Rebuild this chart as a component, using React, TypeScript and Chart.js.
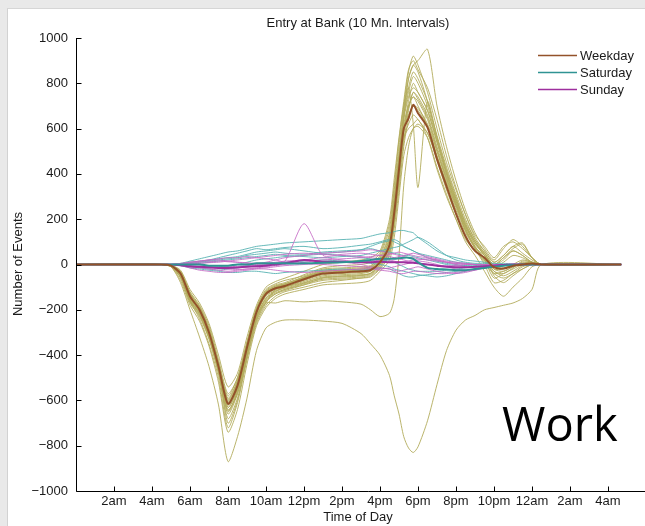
import React, { useEffect, useRef } from 'react';
import { Chart, registerables } from 'chart.js';
Chart.register(...registerables);

// Time grid in hours since midnight (10-minute interval series, sampled)
const timeGrid = [0, 4.5, 5, 5.5, 6, 6.5, 7, 7.5, 8, 8.5, 9, 9.5, 10, 10.5, 11, 12, 13, 14, 15, 15.5, 16, 16.5, 16.75, 17, 17.25, 17.5, 17.75, 18, 18.5, 19, 19.5, 20, 20.5, 21, 21.5, 22, 22.5, 23, 23.5, 24, 24.5, 28.7];

const tickHours = [2, 4, 6, 8, 10, 12, 14, 16, 18, 20, 22, 24, 26, 28];
const tickLabels = ['2am', '4am', '6am', '8am', '10am', '12pm', '2pm', '4pm', '6pm', '8pm', '10pm', '12am', '2am', '4am'];
const seriesNames = ['Weekday', 'Saturday', 'Sunday'];

const weekdayMean = [0,0,-5,-40,-140, -200,-300,-450,-615,-535,-366,-210,-130, -105,-95,-65,-40,-35,-30,-25,10, 85,230,420,600,645,705,668, 605,465,345,225,125,60,30,-12, -18,-6,0,4,0,0];
const saturdayMean = [0,0,0,0,0, 0,-5,-5,-5,0,0,5,5, 5,5,5,8,10,15,20,25, 25,25,28,30,30,25,10, -15,-20,-22,-25,-25,-20,-15,-10, -5,-3,0,0,0,0];
const sundayMean = [0,0,0,-3,-8, -10,-12,-15,-15,-13,-10,-8,-5, 0,5,20,12,12,10,10,12, 10,10,10,10,8,8,5, 0,-5,-10,-12,-12,-10,-8,-5, -2,0,0,0,0,0];

const weekday01 = [0,0,-8,-60,-170, -230,-330,-480,-650,-560,-390,-230,-150, -120,-100,-80,-55,-50,-45,-40,-5, 60,180,380,590,720,800,760, 680,540,400,280,170,90,50,-20, -30,-10,5,10,0,0];
const weekday02 = [0,0,-3,-30,-120, -180,-270,-420,-570,-500,-340,-190,-110, -85,-70,-50,-20,-15,-10,-5,30, 140,300,480,650,820,880,850, 720,560,420,300,180,100,40,0, 20,60,40,10,0,0];
const weekday03 = [0,0,-10,-55,-160, -220,-320,-470,-640,-570,-400,-240,-160, -130,-115,-90,-60,-55,-50,-40,0, 80,220,400,560,600,620,640, 560,420,300,200,110,60,20,-40, -60,-40,-10,0,0,0];
const weekday04 = [0,0,-5,-45,-150, -210,-310,-470,-680,-590,-410,-250,-170, -110,-95,-60,-30,-25,-20,-10,40, 160,330,520,700,850,920,880, 760,600,450,330,220,120,60,10, 40,80,95,30,0,0];
const weekday05 = [0,0,-5,-35,-130, -190,-290,-440,-590,-510,-350,-200,-120, -95,-85,-55,-25,-20,-15,-10,20, 90,240,430,620,700,740,700, 610,480,360,250,150,80,30,-30, -50,-30,-5,5,0,0];
const weekday06 = [0,0,-8,-50,-160, -240,-350,-500,-720,-610,-420,-260,-180, -140,-120,-100,-80,-70,-60,-55,-20, 40,160,330,520,640,700,690, 620,500,380,270,160,70,0,-80, -70,-40,-20,0,0,0];
const weekday07 = [0,0,-3,-25,-110, -170,-260,-400,-540,-480,-320,-180,-100, -75,-60,-30,0,10,20,30,60, 200,380,560,720,860,900,860, 780,640,480,340,220,130,80,30, 80,100,70,30,0,0];
const weekday08 = [0,0,-6,-45,-145, -205,-305,-455,-620,-545,-375,-215,-135, -110,-100,-70,-45,-40,-35,-30,5, 70,200,380,560,620,660,640, 580,460,330,220,120,60,20,-20, -20,0,20,10,0,0];
const weekday09 = [0,0,-10,-70,-180, -250,-360,-520,-740,-640,-440,-270,-190, -150,-130,-110,-90,-85,-80,-70,-30, 20,120,300,480,560,600,620, 580,470,360,260,170,90,40,-50, -80,-50,-20,0,0,0];
const weekday10 = [0,0,-4,-30,-125, -185,-280,-430,-580,-500,-345,-195,-115, -90,-80,-45,-15,-5,0,10,50, 180,350,550,700,780,620,340, 720,560,410,290,190,110,60,10, 40,80,50,20,0,0];
const weekday11 = [0,0,-7,-50,-155, -215,-315,-465,-630,-550,-380,-220,-140, -115,-100,-75,-50,-45,-40,-30,10, 110,260,450,650,760,830,800, 700,550,410,290,180,100,40,-10, 10,40,30,10,0,0];
const weekday12 = [0,0,-5,-40,-135, -195,-295,-445,-600,-520,-355,-205,-125, -100,-90,-60,-35,-30,-25,-20,15, 120,280,470,680,820,880,900, 950,700,520,370,240,140,70,20, 70,110,80,30,0,0];
const weekday13 = [0,0,-6,-42,-142, -202,-302,-452,-610,-530,-362,-207,-128, -100,-92,-62,-38,-32,-28,-22,12, 95,245,425,605,660,700,680, 610,480,350,240,140,75,40,-10, -15,-5,5,5,0,0];
const weekday14 = [0,0,-8,-55,-165, -225,-325,-475,-660,-570,-395,-235,-155, -125,-110,-85,-65,-60,-55,-45,-10, 50,190,360,540,680,760,740, 660,520,390,270,160,80,20,-60, -40,-20,0,0,0,0];
const weekday15 = [0,0,-4,-35,-128, -188,-285,-435,-595,-515,-350,-200,-120, -95,-85,-55,-30,-25,-20,-15,25, 130,290,480,640,740,780,760, 680,540,400,280,170,100,50,0, 30,60,40,10,0,0];
const weekday16 = [0,0,-6,-48,-150, -210,-310,-460,-700,-600,-405,-245,-165, -130,-110,-90,-70,-65,-60,-50,-15, 60,200,390,580,700,740,720, 640,500,370,260,150,70,10,-40, -30,-10,10,5,0,0];
const weekday17 = [0,0,-5,-38,-138, -198,-298,-448,-605,-528,-360,-205,-128, -100,-88,-58,-32,-28,-24,-18,18, 110,270,460,660,780,850,820, 720,570,430,310,200,110,50,0, 30,70,90,30,0,0];
const weekday18 = [0,0,-7,-52,-158, -218,-318,-468,-645,-560,-385,-228,-148, -118,-105,-82,-58,-52,-48,-38,0, 65,210,400,590,690,760,730, 650,510,380,265,150,75,25,-30, -40,-15,15,10,0,0];
const weekday19 = [0,0,-10,-80,-200, -320,-450,-620,-870,-760,-590,-380,-280, -255,-245,-245,-250,-260,-305,-350,-400, -490,-580,-660,-760,-810,-830,-805, -690,-530,-380,-290,-245,-225,-200,-190, -180,-170,-150,-110,0,0];
const weekday20 = [0,0,-5,-40,-140, -200,-300,-460,-630,-550,-380,-230,-170, -170,-160,-165,-160,-165,-175,-200,-230, -215,-150,40,350,520,600,610, 560,430,310,200,100,40,-30,-100, -140,-100,-60,-10,0,0];

const saturday01 = [0,0,0,5,15, 25,35,45,55,60,70,80,85, 90,95,100,105,110,115,125,135, 140,145,150,150,145,140,120, 90,60,40,30,20,15,10,5, 5,3,2,0,0,0];
const saturday02 = [0,0,0,3,10, 15,20,30,40,50,60,70,65, 70,75,80,70,75,85,90,100, 110,100,90,80,70,60,50, 40,30,20,10,5,0,0,0, 0,0,0,0,0,0];
const saturday03 = [0,0,0,0,5, 10,15,20,25,30,40,45,50, 55,50,45,55,60,65,70,60, 55,50,45,40,40,35,30, 20,10,0,-5,-5,-5,0,0, 0,0,0,0,0,0];
const saturday04 = [0,0,0,-3,-8, -12,-15,-10,-5,0,10,20,25, 30,35,40,45,40,30,25,20, 15,10,0,-10,-20,-25,-30, -30,-30,-25,-20,-15,-10,-5,-3, 0,0,0,0,0,0];
const saturday05 = [0,0,0,-5,-15, -20,-25,-30,-35,-35,-30,-30,-35, -40,-35,-30,-25,-20,-25,-20,-15, -20,-30,-40,-50,-55,-55,-50, -45,-40,-35,-30,-25,-20,-15,-10, -5,-3,0,0,0,0];
const saturday06 = [0,0,0,2,8, 12,18,25,30,35,45,55,60, 65,70,60,50,55,65,80,95, 105,110,100,80,70,60,50, 30,15,5,0,-5,-10,-5,0, 0,0,0,0,0,0];
const saturday07 = [0,0,0,-2,-10, -15,-20,-25,-20,-15,-10,-5,0, 5,10,15,20,15,10,5,0, -10,-20,-25,-30,-35,-40,-45, -50,-55,-50,-40,-30,-20,-10,-5, 0,0,0,0,0,0];
const saturday08 = [0,0,0,0,3, 5,10,15,20,25,30,35,40, 45,40,35,30,35,40,50,60, 70,75,80,90,100,110,120, 100,70,40,20,10,5,5,0, 0,0,0,0,0,0];

const sunday01 = [0,0,0,5,10, 15,20,25,30,30,35,30,25, 20,15,180,40,45,50,45,40, 35,30,25,20,15,10,5, 0,-5,-5,-5,0,0,0,0, 0,0,0,0,0,0];
const sunday02 = [0,0,0,-3,-10, -15,-20,-25,-30,-25,-20,-15,-10, -5,0,10,20,25,30,35,40, 45,50,55,50,45,40,35, 30,20,10,0,-10,-15,-10,-5, 0,0,0,0,0,0];
const sunday03 = [0,0,0,-5,-15, -25,-30,-35,-35,-30,-25,-20,-20, -25,-30,-35,-30,-25,-20,-20,-25, -30,-35,-40,-40,-35,-30,-30, -35,-40,-40,-35,-30,-25,-15,-10, -5,0,0,0,0,0];
const sunday04 = [0,0,0,2,5, 10,12,15,12,10,8,5,10, 20,30,40,50,55,60,65,60, 50,45,40,35,30,30,25, 20,15,10,5,5,0,0,0, 0,0,0,0,0,0];
const sunday05 = [0,0,0,-2,-8, -12,-15,-18,-20,-22,-20,-18,-15, -10,-5,0,5,10,0,-10,-15, -20,-25,-30,-25,-20,-15,-10, -20,-30,-35,-40,-35,-25,-15,-5, 0,0,0,0,0,0];
const sunday06 = [0,0,0,3,10, 15,20,20,15,10,5,0,5, 10,15,20,30,20,10,15,20, 25,30,35,40,45,50,45, 35,25,15,10,5,0,0,0, 0,0,0,0,0,0];
const sunday07 = [0,0,0,-1,-5, -8,-10,-12,-10,-8,-5,-3,0, 5,10,5,0,-5,-10,-15,-20, -15,-10,-5,0,5,10,15, 10,0,-10,-20,-25,-20,-10,-5, 0,0,0,0,0,0];
const sunday08 = [0,0,0,0,2, 5,8,10,15,20,25,30,35, 40,45,50,45,40,35,30,25, 20,15,10,10,15,20,20, 25,20,10,5,0,0,0,0, 0,0,0,0,0,0];

const weekdayDays = [weekday01, weekday02, weekday03, weekday04, weekday05, weekday06, weekday07, weekday08, weekday09, weekday10, weekday11, weekday12, weekday13, weekday14, weekday15, weekday16, weekday17, weekday18, weekday19, weekday20];
const saturdayDays = [saturday01, saturday02, saturday03, saturday04, saturday05, saturday06, saturday07, saturday08];
const sundayDays = [sunday01, sunday02, sunday03, sunday04, sunday05, sunday06, sunday07, sunday08];

const FONT = '"Liberation Sans", Arial, Helvetica, sans-serif';
const FS = 13;
const colors = {
  weekdayLine: 'rgba(178,172,92,0.9)',
  weekdayMean: '#93522a',
  saturdayLine: 'rgba(88,178,178,0.9)',
  saturdayMean: '#2f9393',
  sundayLine: 'rgba(196,104,196,0.85)',
  sundayMean: '#9e2f9e',
};

const toPoints = (vals: number[]) =>
  timeGrid.map((x, i) => ({ x, y: vals[i] })).filter((p) => p.y !== undefined);

const lineDs = (label: string, vals: number[], color: string, width: number) => ({
  label,
  data: toPoints(vals),
  borderColor: color,
  backgroundColor: color,
  borderWidth: width,
  pointRadius: 0,
  tension: 0.25,
  fill: false,
});

const decorPlugin = {
  id: 'decor',
  afterDraw(chart: any) {
    const { ctx, chartArea: a, scales } = chart;
    ctx.save();
    ctx.strokeStyle = '#000';
    ctx.lineWidth = 1;
    const L = Math.round(a.left) + 0.5;
    const B = Math.round(a.bottom) + 0.5;
    ctx.beginPath();
    ctx.moveTo(L, a.top);
    ctx.lineTo(L, B);
    ctx.lineTo(a.right + 20, B);
    scales.y.ticks.forEach((t: any) => {
      const y = Math.round(scales.y.getPixelForValue(t.value)) + 0.5;
      ctx.moveTo(L, y);
      ctx.lineTo(L + 5, y);
    });
    scales.x.ticks.forEach((t: any) => {
      const x = Math.round(scales.x.getPixelForValue(t.value)) + 0.5;
      ctx.moveTo(x, B);
      ctx.lineTo(x, B - 5);
    });
    ctx.stroke();

    ctx.fillStyle = '#1a1a1a';
    ctx.font = `${FS}px ${FONT}`;
    ctx.textAlign = 'center';
    ctx.textBaseline = 'middle';
    ctx.fillText('Entry at Bank (10 Mn. Intervals)', 358, 23);
    ctx.fillText('Time of Day', 358, 517);
    ctx.save();
    ctx.translate(18, 264);
    ctx.rotate(-Math.PI / 2);
    ctx.fillText('Number of Events', 0, 0);
    ctx.restore();

    // legend
    const legendColors = [colors.weekdayMean, colors.saturdayMean, colors.sundayMean];
    seriesNames.forEach((name, i) => {
      const y = 55 + i * 17;
      ctx.strokeStyle = legendColors[i];
      ctx.lineWidth = 1.5;
      ctx.beginPath();
      ctx.moveTo(538, y + 0.5);
      ctx.lineTo(577, y + 0.5);
      ctx.stroke();
      ctx.fillStyle = '#1a1a1a';
      ctx.textAlign = 'left';
      ctx.fillText(name, 580, y + 1);
    });

    ctx.fillStyle = '#000';
    ctx.font = '47px "Open Sans", Lato, sans-serif';
    ctx.textAlign = 'left';
    ctx.textBaseline = 'alphabetic';
    ctx.fillText('Work', 502, 441);
    ctx.restore();
  },
};

export default function App() {
  const ref = useRef<HTMLCanvasElement>(null);
  useEffect(() => {
    document.body.style.margin = '0';
    const datasets: any[] = [
      lineDs(seriesNames[0], weekdayMean, colors.weekdayMean, 2),
      lineDs(seriesNames[1], saturdayMean, colors.saturdayMean, 2),
      lineDs(seriesNames[2], sundayMean, colors.sundayMean, 2),
      ...sundayDays.map((d, i) => lineDs('Sunday ' + (i + 1), d, colors.sundayLine, 1)),
      ...saturdayDays.map((d, i) => lineDs('Saturday ' + (i + 1), d, colors.saturdayLine, 1)),
      ...weekdayDays.map((d, i) => lineDs('Weekday ' + (i + 1), d, colors.weekdayLine, 1)),
    ];
    const chart = new Chart(ref.current!, {
      type: 'line',
      data: { datasets },
      plugins: [decorPlugin],
      options: {
        animation: false,
        responsive: false,
        devicePixelRatio: 1,
        layout: { padding: { top: 38, right: 14, left: 0, bottom: 0 } },
        plugins: { legend: { display: false }, tooltip: { enabled: false }, title: { display: false } },
        scales: {
          x: {
            type: 'linear',
            min: 0,
            max: 30,
            grid: { display: false, drawTicks: false },
            border: { display: false },
            afterBuildTicks: (s: any) => {
              s.ticks = tickHours.map((v) => ({ value: v }));
            },
            afterFit: (s: any) => {
              s.height = 35;
            },
            ticks: {
              autoSkip: false,
              maxRotation: 0,
              padding: 3,
              color: '#1a1a1a',
              font: { family: FONT, size: FS },
              callback: (v: any) => {
                const i = tickHours.indexOf(Number(v));
                return i >= 0 ? tickLabels[i] : '';
              },
            },
          },
          y: {
            min: -1000,
            max: 1000,
            grid: { display: false, drawTicks: false },
            border: { display: false },
            afterFit: (s: any) => {
              s.width = 76;
            },
            ticks: {
              stepSize: 200,
              padding: 8,
              color: '#1a1a1a',
              font: { family: FONT, size: FS },
              callback: (v: any) => (Number(v) < 0 ? '\u2212' + Math.abs(Number(v)) : String(v)),
            },
          },
        },
      },
    });
    return () => chart.destroy();
  }, []);
  return (
    <div style={{ position: 'relative', width: 645, height: 526, overflow: 'hidden', background: '#e9e9e9' }}>
      <div
        style={{
          position: 'absolute',
          left: 7,
          top: 8,
          right: 0,
          bottom: 0,
          background: '#fff',
          borderLeft: '1px solid #d2d2d2',
          borderTop: '1px solid #d6d6d6',
        }}
      />
      <canvas ref={ref} width={660} height={526} style={{ position: 'absolute', left: 0, top: 0, width: 660, height: 526 }} />
    </div>
  );
}
